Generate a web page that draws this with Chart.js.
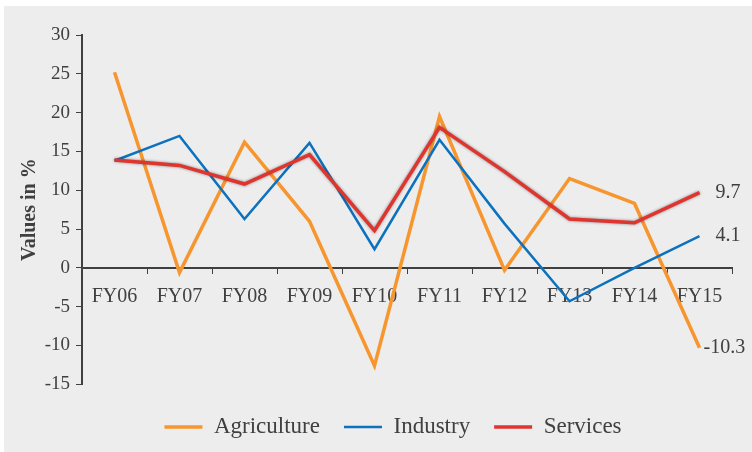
<!DOCTYPE html>
<html>
<head>
<meta charset="utf-8">
<script src="https://cdn.jsdelivr.net/npm/chart.js@4.4.1/dist/chart.umd.min.js"></script>
<style>
  html, body { margin: 0; padding: 0; background: #ffffff; }
  #wrap { width: 752px; height: 452px; }
</style>
</head>
<body>
<div id="wrap"><canvas id="growthChart" width="752" height="452"></canvas></div>
<script>
// sector growth, FY06 - FY15
const years = ['FY06', 'FY07', 'FY08', 'FY09', 'FY10', 'FY11', 'FY12', 'FY13', 'FY14', 'FY15'];
const agriculture = [25.2, -0.6, 16.2, 6.0, -12.6, 19.5, -0.3, 11.5, 8.3, -10.3];
const industry = [13.8, 17.0, 6.3, 16.1, 2.4, 16.5, 5.7, -4.3, 0.0, 4.1];
const services = [13.9, 13.2, 10.8, 14.6, 4.8, 18.1, 12.4, 6.3, 5.8, 9.7];
const yTicks = { min: -15, max: 30, step: 5 };

const SERIF = "'Liberation Serif', 'DejaVu Serif', serif";
const INK = '#404040';

// grey panel behind the chart
const panelBg = {
  id: 'panelBg',
  beforeDraw(chart) {
    const ctx = chart.ctx;
    ctx.save();
    ctx.fillStyle = '#ededed';
    ctx.fillRect(4, 6, chart.width - 4, chart.height - 6);
    ctx.restore();
  }
};

// legend sits a bit right of the canvas centre
const legendShift = {
  id: 'legendShift',
  afterLayout(chart) {
    chart.legend.left += 25;
    chart.legend.right += 25;
  }
};

// soft shadow under the services line
const lineShadow = {
  id: 'lineShadow',
  beforeDatasetDraw(chart, args) {
    if (args.index !== 2) return;
    const ctx = chart.ctx;
    ctx.save();
    ctx.shadowColor = 'rgba(0,0,0,0.45)';
    ctx.shadowBlur = 3;
    ctx.shadowOffsetX = 0;
    ctx.shadowOffsetY = 0;
  },
  afterDatasetDraw(chart, args) {
    if (args.index !== 2) return;
    chart.ctx.restore();
  }
};

// value labels at the last point of each series
const endLabels = {
  id: 'endLabels',
  afterDatasetsDraw(chart) {
    const ctx = chart.ctx;
    const gaps = [4, 16, 16];
    ctx.save();
    ctx.font = '20px ' + SERIF;
    ctx.fillStyle = INK;
    ctx.textBaseline = 'middle';
    ctx.textAlign = 'left';
    chart.data.datasets.forEach((ds, i) => {
      const meta = chart.getDatasetMeta(i);
      const pt = meta.data[meta.data.length - 1];
      const v = ds.data[ds.data.length - 1];
      ctx.fillText(v.toFixed(1), pt.x + gaps[i], pt.y);
    });
    ctx.restore();
  }
};

const ctx = document.getElementById('growthChart').getContext('2d');
new Chart(ctx, {
  type: 'line',
  data: {
    labels: years,
    datasets: [
      { label: 'Agriculture', data: agriculture, borderColor: '#f7962f', backgroundColor: '#f7962f', borderWidth: 3.5, order: 3 },
      { label: 'Industry', data: industry, borderColor: '#0d72be', backgroundColor: '#0d72be', borderWidth: 2.5, order: 2 },
      { label: 'Services', data: services, borderColor: '#e0342e', backgroundColor: '#e0342e', borderWidth: 3.5, order: 1 }
    ]
  },
  options: {
    responsive: false,
    animation: false,
    tension: 0,
    pointRadius: 0,
    layout: { padding: { left: 4, right: 20, top: 35, bottom: 3.5 } },
    plugins: {
      legend: {
        position: 'bottom',
        title: { display: true, text: '', font: { size: 6 }, padding: 0 },
        labels: {
          usePointStyle: true,
          pointStyle: 'line',
          pointStyleWidth: 38,
          boxHeight: 23,
          padding: 24,
          color: INK,
          font: { family: SERIF, size: 23 },
          sort: (a, b) => a.datasetIndex - b.datasetIndex
        }
      },
      tooltip: { enabled: false }
    },
    scales: {
      x: {
        type: 'category',
        position: { y: 0 },
        offset: true,
        grid: { display: true, drawOnChartArea: false, drawTicks: true, tickLength: 5, tickColor: INK, offset: true },
        border: { display: true, color: INK, width: 2 },
        ticks: { color: INK, font: { family: SERIF, size: 20 }, padding: 12, maxRotation: 0 }
      },
      y: {
        min: yTicks.min,
        max: yTicks.max,
        afterFit(scale) { scale.width = 78; },
        grid: { display: true, drawOnChartArea: false, drawTicks: true, tickLength: 6, tickColor: INK },
        border: { display: true, color: INK, width: 2 },
        ticks: { stepSize: yTicks.step, color: INK, font: { family: SERIF, size: 19 }, padding: 6 },
        title: {
          display: true,
          text: 'Values in %',
          color: INK,
          font: { family: SERIF, size: 20, weight: 'bold' },
          padding: { top: 14, bottom: 0 }
        }
      }
    }
  },
  plugins: [panelBg, legendShift, lineShadow, endLabels]
});
</script>
</body>
</html>
